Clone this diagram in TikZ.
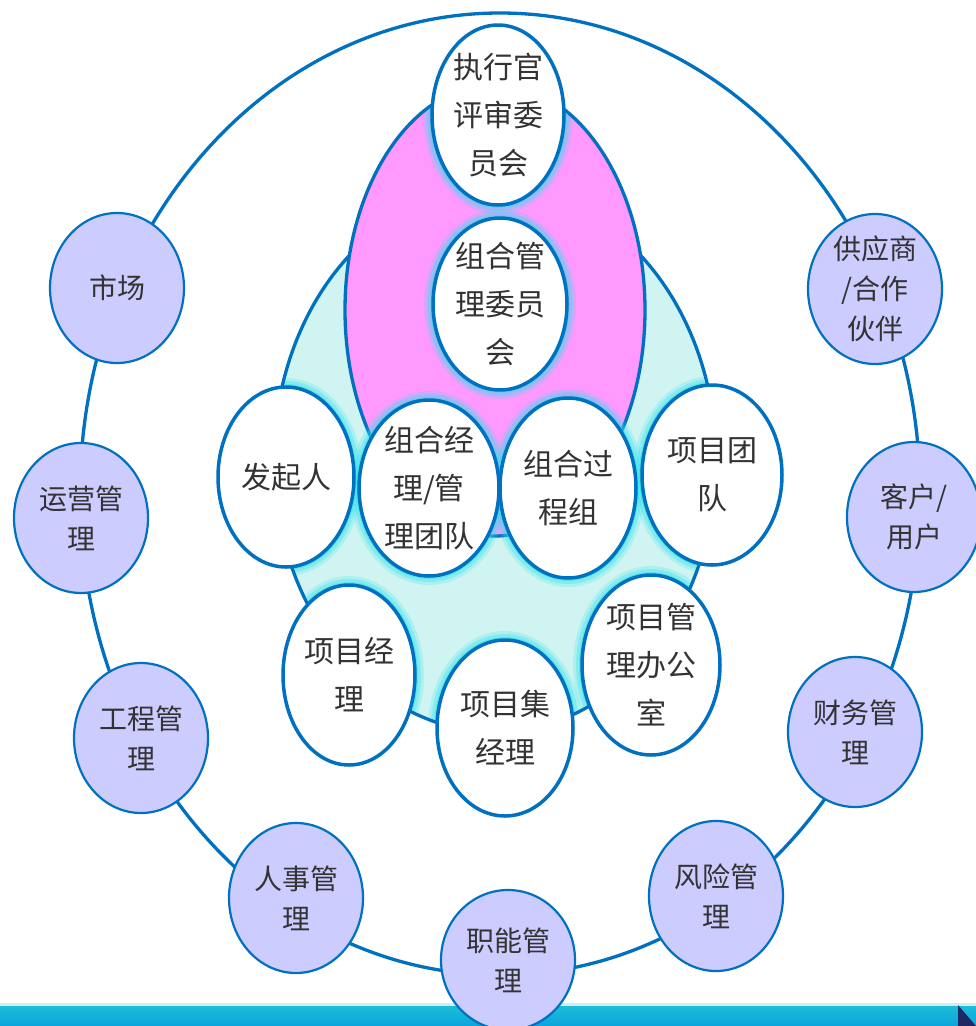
\documentclass[tikz,border=0pt]{standalone}
\usepackage{fontspec}
\newfontfamily\cjk{Noto Sans CJK SC}
\usetikzlibrary{shapes.geometric}
\definecolor{ringblue}{RGB}{0,112,192}
\definecolor{lav}{RGB}{204,204,255}
\definecolor{pinkf}{RGB}{255,153,255}
\definecolor{cyanf}{RGB}{208,244,242}
\definecolor{halo}{RGB}{40,225,235}
\definecolor{bandtop}{RGB}{30,190,215}
\definecolor{bandbot}{RGB}{10,165,220}
\definecolor{navy}{RGB}{30,40,100}
\begin{document}
\begin{tikzpicture}[x=1pt,y=-1pt,
  outernode/.style={ellipse, draw=ringblue, line width=2.2pt, fill=lav,
    minimum width=134pt, minimum height=150pt, inner sep=-30pt, align=center,
    font=\cjk\fontsize{28}{40}\selectfont, text=black!80},
  innernode/.style={ellipse, draw=ringblue, line width=3.5pt, fill=white,
    inner sep=-35pt, align=center,
    font=\cjk\fontsize{30}{48}\selectfont, text=black!80},
  ringline/.style={draw=ringblue, line width=3.3pt},
  haloA/.style={draw=halo, opacity=0.2, line width=18pt},
  haloB/.style={draw=halo, opacity=0.3, line width=12pt},
  haloC/.style={draw=halo, opacity=0.45, line width=6pt},
]
\useasboundingbox (0,0) rectangle (976,1026);
\fill[white] (0,0) rectangle (976,1026);

% bottom band
\shade[top color=bandtop, bottom color=bandbot] (0,1005) rectangle (976,1026);
\fill[cyan!20] (0,1003) rectangle (976,1006);
\fill[navy] (958,1005) -- (976,1026) -- (958,1026) -- cycle;

% outer ring
\draw[ringline] (500,494) ellipse [x radius=420, y radius=481];

% outer nodes
\node[outernode] (market) at (117,288) {市场};
\node[outernode] (ops) at (81,518) {运营管\\理};
\node[outernode] (eng) at (141,738) {工程管\\理};
\node[outernode] (hr) at (296,898) {人事管\\理};
\node[outernode, minimum height=140pt] (func) at (508,960) {职能管\\理};
\node[outernode] (risk) at (716,896) {风险管\\理};
\node[outernode] (fin) at (855,732) {财务管\\理};
\node[outernode] (cust) at (914,517) {客户/\\用户};
\node[outernode] (supp) at (875,289) {供应商\\/合作\\伙伴};

% cyan region and pink ellipse
\draw[ringline, fill=cyanf] (495,460) ellipse [x radius=221, y radius=272];
\draw[ringline, fill=pinkf] (495,310) ellipse [x radius=150, y radius=226];

% halos
\begin{scope}
  \clip (495,460) ellipse [x radius=219, y radius=270]
        (495,310) ellipse [x radius=148, y radius=224];
  \foreach \cx/\cy/\rx/\ry in {498/115/66/90, 500/304/67/86, 286/477/68/90,
      429/488/70/88, 568/488/68/90, 712/475/70/90, 349/675/66/90,
      505/728/68/88, 651/665/69/90} {
    \draw[haloA] (\cx,\cy) ellipse [x radius=\rx, y radius=\ry];
    \draw[haloB] (\cx,\cy) ellipse [x radius=\rx, y radius=\ry];
    \draw[haloC] (\cx,\cy) ellipse [x radius=\rx, y radius=\ry];
  }
\end{scope}

% white nodes
\node[innernode, minimum width=132pt, minimum height=180pt] (exec) at (498,115) {执行官\\评审委\\员会};
\node[innernode, minimum width=134pt, minimum height=172pt] (pcm) at (500,304) {组合管\\理委员\\会};
\node[innernode, minimum width=136pt, minimum height=180pt] (sponsor) at (286,477) {发起人};
\node[innernode, minimum width=140pt, minimum height=176pt] (pmteam) at (429,488) {组合经\\理/管\\理团队};
\node[innernode, minimum width=136pt, minimum height=180pt] (ppg) at (568,488) {组合过\\程组};
\node[innernode, minimum width=140pt, minimum height=180pt] (team) at (712,475) {项目团\\队};
\node[innernode, minimum width=132pt, minimum height=180pt] (pmgr) at (349,675) {项目经\\理};
\node[innernode, minimum width=136pt, minimum height=176pt] (pgm) at (505,728) {项目集\\经理};
\node[innernode, minimum width=138pt, minimum height=180pt] (pmo) at (651,665) {项目管\\理办公\\室};
\end{tikzpicture}
\end{document}
